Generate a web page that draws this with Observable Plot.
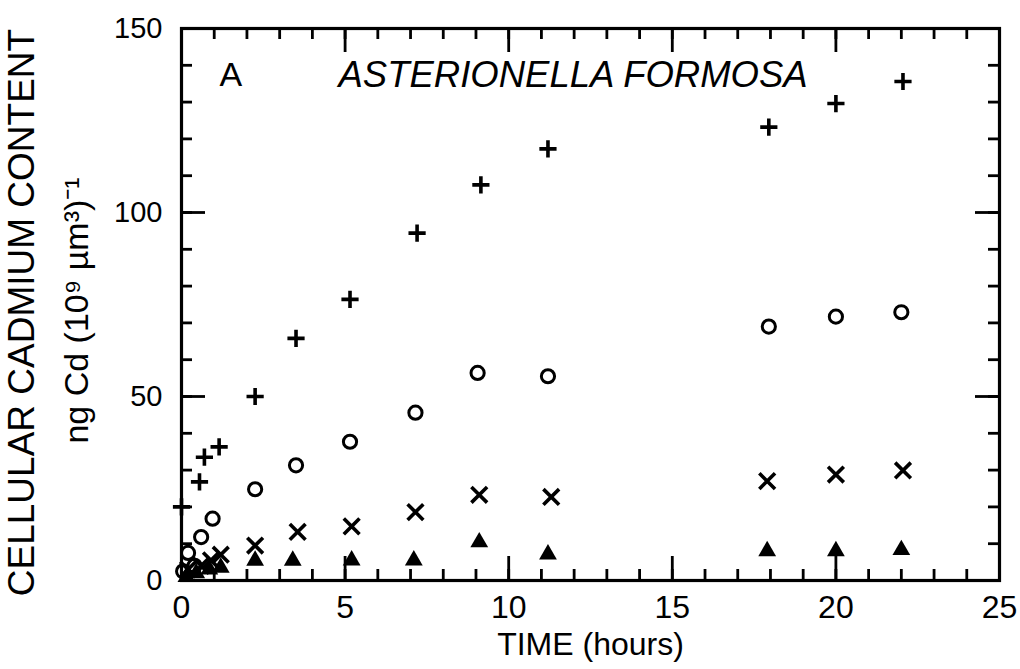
<!DOCTYPE html>
<html>
<head>
<meta charset="utf-8">
<script src="https://cdn.jsdelivr.net/npm/d3@7"></script>
<script src="https://cdn.jsdelivr.net/npm/@observablehq/plot@0.6"></script>
<style>
  html, body { margin: 0; padding: 0; background: #fff; }
</style>
</head>
<body>
<div id="chart"></div>
<script>
// ---- data ----
const plusTime  = [0.0, 0.55, 0.7, 1.15, 2.25, 3.5, 5.15, 7.2, 9.15, 11.2, 17.95, 20.0, 22.05];
const plusCd    = [20.0, 26.8, 33.5, 36.3, 50.0, 65.8, 76.4, 94.4, 107.5, 117.3, 123.2, 129.6, 135.6];

const circleTime = [0.05, 0.2, 0.4, 0.6, 0.95, 2.25, 3.5, 5.15, 7.15, 9.05, 11.2, 17.95, 20.0, 22.0];
const circleCd   = [2.5, 7.5, 4.0, 11.8, 16.8, 24.8, 31.3, 37.7, 45.6, 56.4, 55.5, 69.0, 71.7, 72.9];

const timesTime = [0.2, 0.6, 0.9, 1.2, 2.25, 3.55, 5.2, 7.15, 9.1, 11.3, 17.9, 20.0, 22.05];
const timesCd   = [3.0, 4.0, 5.5, 7.0, 9.5, 13.2, 14.7, 18.6, 23.3, 22.7, 27.0, 28.8, 29.9];

const triTime = [0.15, 0.45, 0.85, 1.2, 2.25, 3.4, 5.2, 7.1, 9.1, 11.2, 17.9, 20.0, 22.0];
const triCd   = [1.0, 2.0, 3.0, 3.5, 5.4, 5.4, 5.5, 5.5, 10.4, 7.1, 8.0, 8.0, 8.3];

const xMajorTicks = [0, 5, 10, 15, 20, 25];
const xMinorTicks = d3.range(0, 26, 1);
const yMajorTicks = [0, 50, 100, 150];
const yMinorTicks = d3.range(0, 151, 10);

const panelLetter = "A";
const speciesName = "ASTERIONELLA FORMOSA";
const yTitle1 = "CELLULAR CADMIUM CONTENT";
const yTitle2 = "ng Cd (10\u2079 \u00B5m\u00B3)\u207B\u00B9";
const xTitle = "TIME (hours)";

// ---- layout ----
const W = 1020, H = 669;
const mL = 181, mR = 21, mT = 28, mB = 89;
const fw = W - mL - mR, fh = H - mT - mB;
const minorLen = 11, majorLen = 24;

const zip = (xs, ys) => xs.map((x, i) => ({t: x, v: ys[i]}));
const plusData = zip(plusTime, plusCd);
const circleData = zip(circleTime, circleCd);
const timesData = zip(timesTime, timesCd);
const triData = zip(triTime, triCd);

const font = "'Liberation Sans', Arial, sans-serif";

const chart = Plot.plot({
  width: W,
  height: H,
  marginLeft: mL,
  marginRight: mR,
  marginTop: mT,
  marginBottom: mB,
  style: {fontFamily: font, fontSize: "28px", color: "black", background: "white"},
  x: {domain: [0, 25], ticks: xMajorTicks, label: null},
  y: {domain: [0, 150], ticks: yMajorTicks, label: null},
  marks: [
    Plot.frame({stroke: "black", strokeWidth: 3.2}),
    // bottom ticks (inward)
    Plot.tickX(xMinorTicks, {x: d => d, insetTop: fh - minorLen, stroke: "black", strokeWidth: 2.8}),
    Plot.tickX(xMajorTicks, {x: d => d, insetTop: fh - majorLen, stroke: "black", strokeWidth: 2.8}),
    // top ticks (inward)
    Plot.tickX(xMinorTicks, {x: d => d, insetBottom: fh - minorLen, stroke: "black", strokeWidth: 2.8}),
    Plot.tickX(xMajorTicks, {x: d => d, insetBottom: fh - majorLen, stroke: "black", strokeWidth: 2.8}),
    // left ticks
    Plot.tickY(yMinorTicks, {y: d => d, insetRight: fw - minorLen, stroke: "black", strokeWidth: 2.8}),
    Plot.tickY(yMajorTicks, {y: d => d, insetRight: fw - majorLen, stroke: "black", strokeWidth: 2.8}),
    // right ticks
    Plot.tickY(yMinorTicks, {y: d => d, insetLeft: fw - minorLen, stroke: "black", strokeWidth: 2.8}),
    Plot.tickY(yMajorTicks, {y: d => d, insetLeft: fw - majorLen, stroke: "black", strokeWidth: 2.8}),
    // tick labels
    Plot.axisX(xMajorTicks, {tickSize: 0, tickPadding: 15, fontSize: 32, label: null}),
    Plot.axisY(yMajorTicks, {tickSize: 0, tickPadding: 19, fontSize: 29, label: null}),
    // axis titles
    Plot.text([xTitle], {frameAnchor: "bottom", dy: 64, fontSize: 32, lineAnchor: "middle", textAnchor: "middle", text: d => d}),
    Plot.text([yTitle1], {frameAnchor: "left", dx: -159, dy: 8, rotate: -90, fontSize: 37, lineAnchor: "middle", textAnchor: "middle", text: d => d}),
    Plot.text([yTitle2], {frameAnchor: "left", dx: -104, dy: 6, rotate: -90, fontSize: 34, lineAnchor: "middle", textAnchor: "middle", text: d => d}),
    // panel label
    Plot.text([panelLetter], {frameAnchor: "top-left", dx: 38, dy: 47, fontSize: 34, lineAnchor: "middle", textAnchor: "start", text: d => d}),
    Plot.text([speciesName], {frameAnchor: "top-left", dx: 157, dy: 47, fontSize: 36.5, fontStyle: "italic", lineAnchor: "middle", textAnchor: "start", text: d => d}),
    // data
    Plot.dot(triData, {x: "t", y: "v", symbol: "triangle", r: 6.6, fill: "black", stroke: "none"}),
    Plot.dot(timesData, {x: "t", y: "v", symbol: "times", r: 7.2, fill: "none", stroke: "black", strokeWidth: 3.6}),
    Plot.dot(circleData, {x: "t", y: "v", symbol: "circle", r: 6.6, fill: "none", stroke: "black", strokeWidth: 3}),
    Plot.dot(plusData, {x: "t", y: "v", symbol: "plus", r: 5.6, fill: "none", stroke: "black", strokeWidth: 3.6})
  ]
});

document.getElementById("chart").appendChild(chart);
</script>
</body>
</html>
